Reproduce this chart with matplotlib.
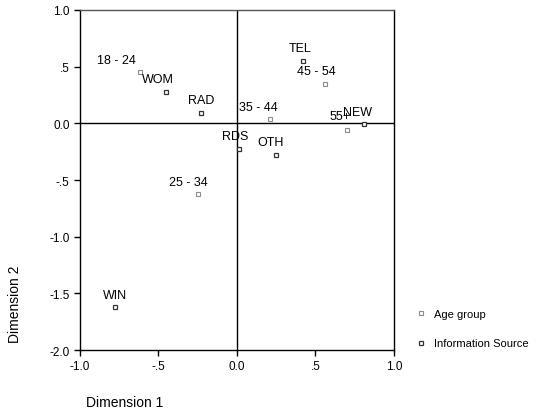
import matplotlib
matplotlib.use("Agg")
import matplotlib.pyplot as plt
from matplotlib.ticker import FixedLocator, FixedFormatter

plt.rcParams['font.family'] = ['Liberation Sans', 'DejaVu Sans']

# age groups
age_labels = ["18 - 24", "25 - 34", "35 - 44", "45 - 54", "55+"]
age_x = [-0.62, -0.25, 0.21, 0.56, 0.70]
age_y = [0.45, -0.62, 0.04, 0.35, -0.06]

# information sources
src_labels = ["WOM", "RAD", "RDS", "OTH", "WIN", "TEL", "NEW"]
src_x = [-0.45, -0.23, 0.01, 0.25, -0.78, 0.42, 0.81]
src_y = [0.28, 0.09, -0.23, -0.28, -1.62, 0.55, -0.01]

ticks = [-1.0, -0.5, 0.0, 0.5, 1.0]
xtick_labels = ["-1.0", "-.5", "0.0", ".5", "1.0"]
yticks = [-2.0, -1.5, -1.0, -0.5, 0.0, 0.5, 1.0]
ytick_labels = ["-2.0", "-1.5", "-1.0", "-.5", "0.0", ".5", "1.0"]

# label offsets in pixels (dx, dy up)
offsets = {
    "18 - 24": (-23, 12), "25 - 34": (-9, 12), "35 - 44": (-12, 12),
    "45 - 54": (-8, 13), "55+": (-7, 14),
    "WOM": (-8, 13), "RAD": (0, 13), "RDS": (-3, 13), "OTH": (-6, 13),
    "WIN": (0, 12), "TEL": (-3, 13), "NEW": (-7, 12),
}

fig = plt.figure(figsize=(5.45, 4.14), dpi=100)
ax = fig.add_axes([0.1468, 0.152, 0.576, 0.8215])

ax.axhline(0, color="black", lw=1)
ax.axvline(0, color="black", lw=1)

h1, = ax.plot(age_x, age_y, ls="none", marker="s", ms=3.5, mfc="white",
              mec="#8c8c8c", mew=0.8, label="Age group")
h2, = ax.plot(src_x, src_y, ls="none", marker="s", ms=3.5, mfc="white",
              mec="#333333", mew=0.9, label="Information Source")

for lab, x, y in zip(age_labels + src_labels, age_x + src_x, age_y + src_y):
    dx, dy = offsets[lab]
    ax.annotate(lab, (x, y), xytext=(dx, dy), textcoords="offset pixels",
                ha="center", va="center", fontsize=9)

ax.set_xlim(-1.0, 1.0)
ax.set_ylim(-2.0, 1.0)
ax.xaxis.set_major_locator(FixedLocator(ticks))
ax.xaxis.set_major_formatter(FixedFormatter(xtick_labels))
ax.yaxis.set_major_locator(FixedLocator(yticks))
ax.yaxis.set_major_formatter(FixedFormatter(ytick_labels))
ax.tick_params(labelsize=8.5, length=4, width=1, direction="out")
for s in ax.spines.values():
    s.set_linewidth(1)
ax.spines["top"].set_color("#555555")

fig.text(0.028, 0.266, "Dimension 2", rotation=90, ha="center", va="center", fontsize=10)
fig.text(0.228, 0.027, "Dimension 1", ha="center", va="center", fontsize=10)

fig.legend(handles=[h1, h2], loc="upper left", bbox_to_anchor=(0.757, 0.262),
           frameon=False, fontsize=8, handlelength=0.8, handletextpad=0.7,
           labelspacing=1.75, borderaxespad=0)

fig.savefig("out.png", dpi=100)
